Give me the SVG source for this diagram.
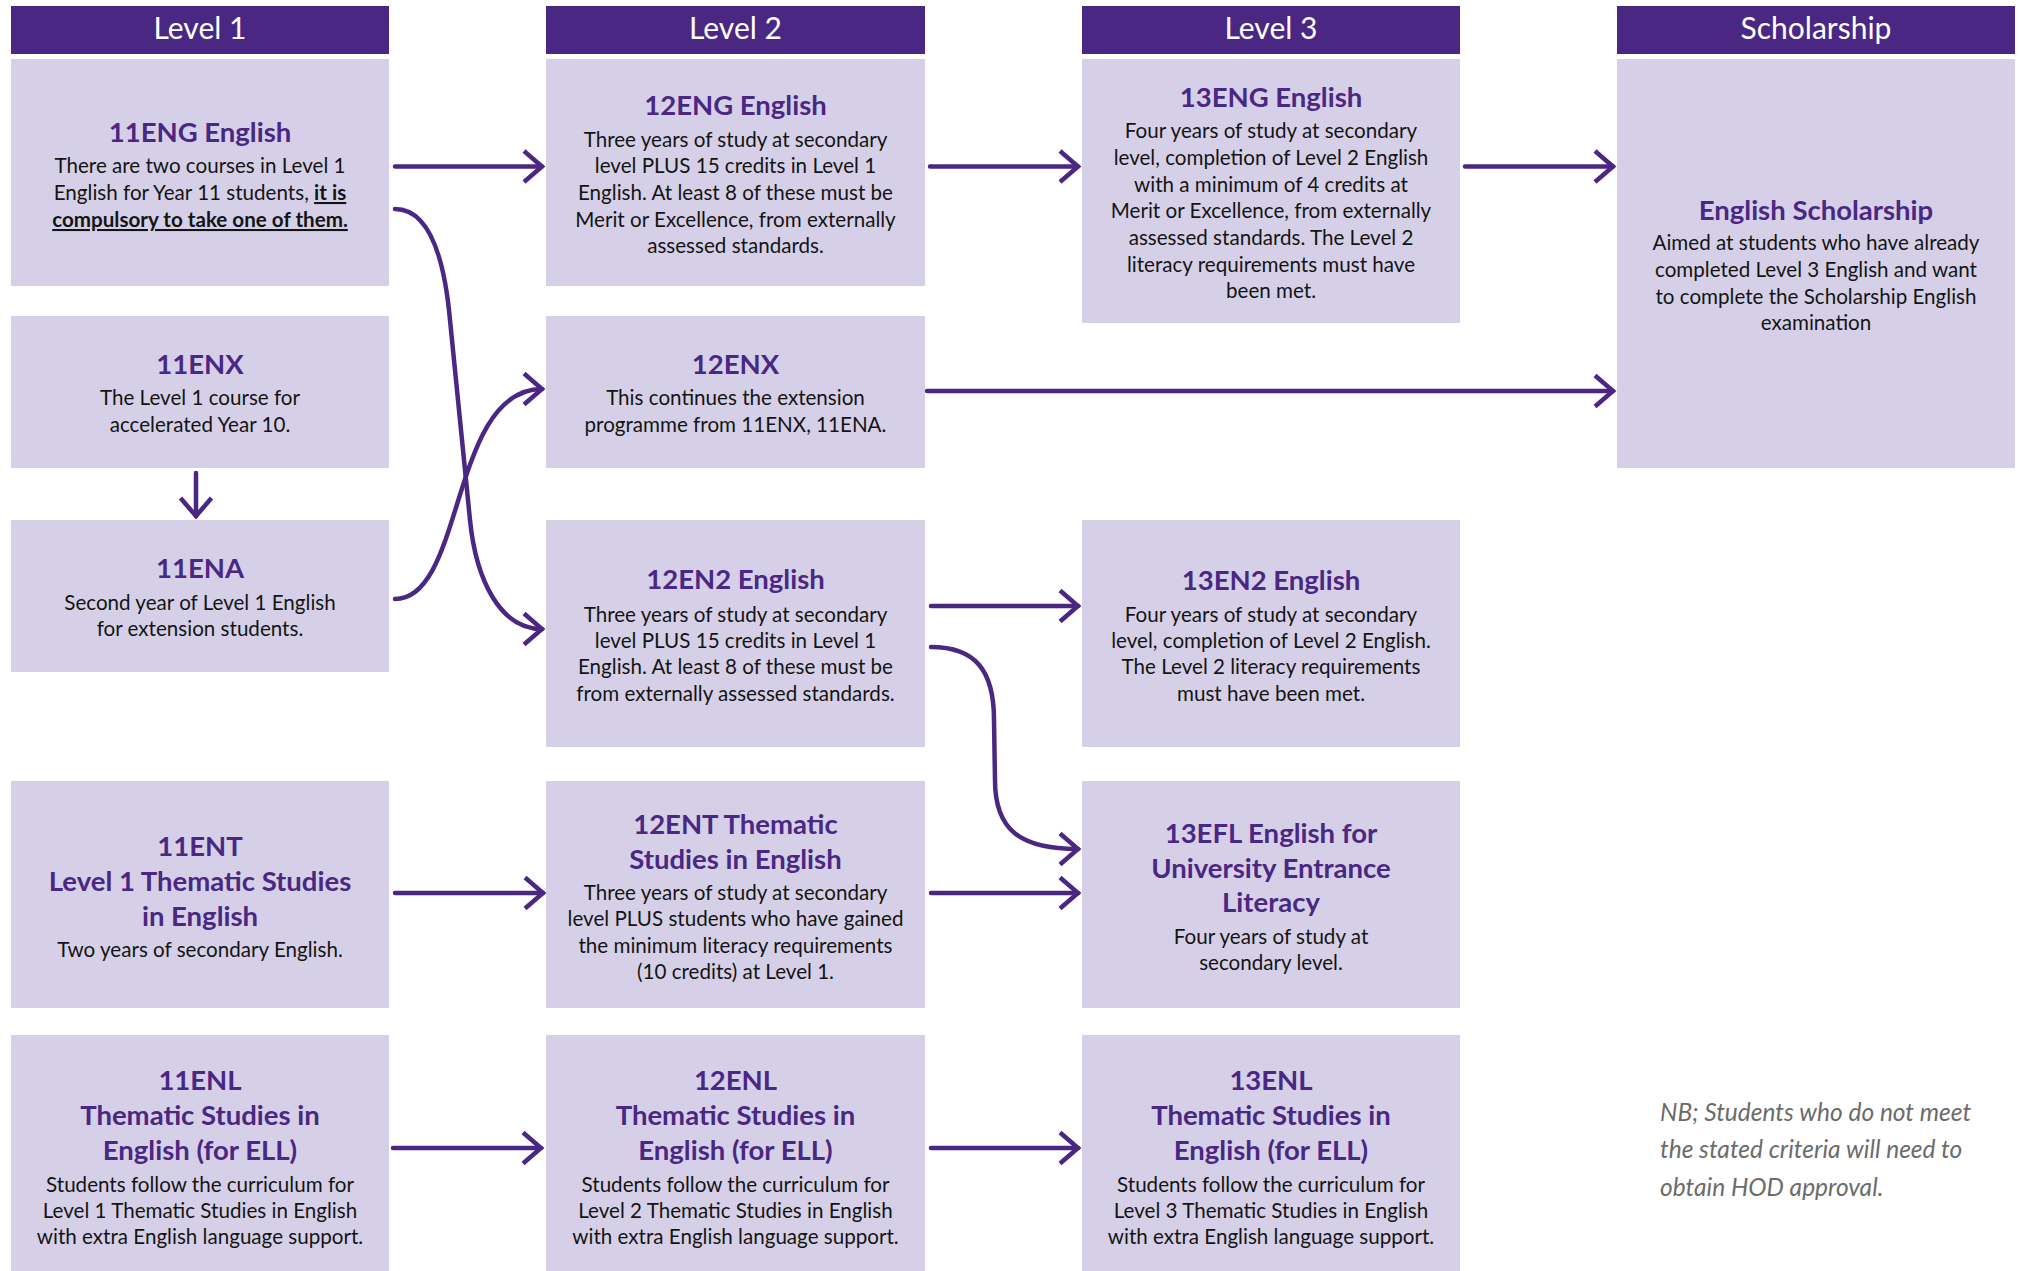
<svg xmlns="http://www.w3.org/2000/svg" width="2020" height="1271" viewBox="0 0 2020 1271">
<defs>
<style>
.hdr{fill:#4a2783}
.hdrt{font-family:Lato,"Open Sans",sans-serif;font-size:30px;fill:#ffffff;text-anchor:middle}
.box{fill:#d5d0e7}
.ttl{font-family:Lato,"Open Sans",sans-serif;font-weight:700;font-size:27.5px;fill:#4a2783;text-anchor:middle}
.bd{font-family:Lato,"Open Sans",sans-serif;font-size:20.6px;fill:#141414;text-anchor:middle}
.em{font-weight:700;text-decoration:underline}
.nb{font-family:Lato,"Open Sans",sans-serif;font-style:italic;font-size:24.5px;fill:#6b6b6b}
.conn path{fill:none;stroke:#4a2783;stroke-width:4.5;stroke-linecap:round;marker-end:url(#ah)}
</style>
<marker id="ah" markerUnits="userSpaceOnUse" markerWidth="40" markerHeight="40" refX="20" refY="16" orient="auto" overflow="visible">
<path d="M2,0.5 L20,16 L2,31.5" fill="none" stroke="#4a2783" stroke-width="4.5" stroke-linejoin="miter"/>
</marker>
</defs>
<rect width="2020" height="1271" fill="#ffffff"/>

<g id="headers">
<rect class="hdr" x="11" y="6" width="378" height="48"/>
<text class="hdrt" x="200" y="39">Level 1</text>
<rect class="hdr" x="546" y="6" width="379" height="48"/>
<text class="hdrt" x="735.5" y="39">Level 2</text>
<rect class="hdr" x="1082" y="6" width="378" height="48"/>
<text class="hdrt" x="1271" y="39">Level 3</text>
<rect class="hdr" x="1617" y="6" width="398" height="48"/>
<text class="hdrt" x="1816" y="39">Scholarship</text>
</g>

<g id="n11ENG">
<rect class="box" x="11" y="59" width="378" height="227"/>
<text class="ttl" x="200" y="142">11ENG English</text>
<text class="bd" x="200" y="173">There are two courses in Level 1</text>
<text class="bd" x="200" y="200">English for Year 11 students, <tspan class="em">it is</tspan></text>
<text class="bd" x="200" y="227"><tspan class="em">compulsory to take one of them.</tspan></text>
</g>

<g id="n11ENX">
<rect class="box" x="11" y="316" width="378" height="152"/>
<text class="ttl" x="200" y="374">11ENX</text>
<text class="bd" x="200" y="405">The Level 1 course for</text>
<text class="bd" x="200" y="432">accelerated Year 10.</text>
</g>

<g id="n11ENA">
<rect class="box" x="11" y="520" width="378" height="152"/>
<text class="ttl" x="200" y="578">11ENA</text>
<text class="bd" x="200" y="610">Second year of Level 1 English</text>
<text class="bd" x="200" y="636">for extension students.</text>
</g>

<g id="n11ENT">
<rect class="box" x="11" y="781" width="378" height="227"/>
<text class="ttl" x="200" y="856">11ENT</text>
<text class="ttl" x="200" y="891">Level 1 Thematic Studies</text>
<text class="ttl" x="200" y="926">in English</text>
<text class="bd" x="200" y="957">Two years of secondary English.</text>
</g>

<g id="n11ENL">
<rect class="box" x="11" y="1035" width="378" height="236"/>
<text class="ttl" x="200" y="1090">11ENL</text>
<text class="ttl" x="200" y="1125">Thematic Studies in</text>
<text class="ttl" x="200" y="1160">English (for ELL)</text>
<text class="bd" x="200" y="1192">Students follow the curriculum for</text>
<text class="bd" x="200" y="1218">Level 1 Thematic Studies in English</text>
<text class="bd" x="200" y="1244">with extra English language support.</text>
</g>

<g id="n12ENG">
<rect class="box" x="546" y="59" width="379" height="227"/>
<text class="ttl" x="735.5" y="115">12ENG English</text>
<text class="bd" x="735.5" y="147">Three years of study at secondary</text>
<text class="bd" x="735.5" y="173">level PLUS 15 credits in Level 1</text>
<text class="bd" x="735.5" y="200">English. At least 8 of these must be</text>
<text class="bd" x="735.5" y="227">Merit or Excellence, from externally</text>
<text class="bd" x="735.5" y="253">assessed standards.</text>
</g>

<g id="n12ENX">
<rect class="box" x="546" y="316" width="379" height="152"/>
<text class="ttl" x="735.5" y="374">12ENX</text>
<text class="bd" x="735.5" y="405">This continues the extension</text>
<text class="bd" x="735.5" y="432">programme from 11ENX, 11ENA.</text>
</g>

<g id="n12EN2">
<rect class="box" x="546" y="520" width="379" height="227"/>
<text class="ttl" x="735.5" y="589">12EN2 English</text>
<text class="bd" x="735.5" y="622">Three years of study at secondary</text>
<text class="bd" x="735.5" y="648">level PLUS 15 credits in Level 1</text>
<text class="bd" x="735.5" y="674">English. At least 8 of these must be</text>
<text class="bd" x="735.5" y="701">from externally assessed standards.</text>
</g>

<g id="n12ENT">
<rect class="box" x="546" y="781" width="379" height="227"/>
<text class="ttl" x="735.5" y="834">12ENT Thematic</text>
<text class="ttl" x="735.5" y="869">Studies in English</text>
<text class="bd" x="735.5" y="900">Three years of study at secondary</text>
<text class="bd" x="735.5" y="926">level PLUS students who have gained</text>
<text class="bd" x="735.5" y="953">the minimum literacy requirements</text>
<text class="bd" x="735.5" y="979">(10 credits) at Level 1.</text>
</g>

<g id="n12ENL">
<rect class="box" x="546" y="1035" width="379" height="236"/>
<text class="ttl" x="735.5" y="1090">12ENL</text>
<text class="ttl" x="735.5" y="1125">Thematic Studies in</text>
<text class="ttl" x="735.5" y="1160">English (for ELL)</text>
<text class="bd" x="735.5" y="1192">Students follow the curriculum for</text>
<text class="bd" x="735.5" y="1218">Level 2 Thematic Studies in English</text>
<text class="bd" x="735.5" y="1244">with extra English language support.</text>
</g>

<g id="n13ENG">
<rect class="box" x="1082" y="59" width="378" height="264"/>
<text class="ttl" x="1271" y="107">13ENG English</text>
<text class="bd" x="1271" y="138">Four years of study at secondary</text>
<text class="bd" x="1271" y="165">level, completion of Level 2 English</text>
<text class="bd" x="1271" y="192">with a minimum of 4 credits at</text>
<text class="bd" x="1271" y="218">Merit or Excellence, from externally</text>
<text class="bd" x="1271" y="245">assessed standards. The Level 2</text>
<text class="bd" x="1271" y="272">literacy requirements must have</text>
<text class="bd" x="1271" y="298">been met.</text>
</g>

<g id="n13EN2">
<rect class="box" x="1082" y="520" width="378" height="227"/>
<text class="ttl" x="1271" y="590">13EN2 English</text>
<text class="bd" x="1271" y="622">Four years of study at secondary</text>
<text class="bd" x="1271" y="648">level, completion of Level 2 English.</text>
<text class="bd" x="1271" y="674">The Level 2 literacy requirements</text>
<text class="bd" x="1271" y="701">must have been met.</text>
</g>

<g id="n13EFL">
<rect class="box" x="1082" y="781" width="378" height="227"/>
<text class="ttl" x="1271" y="843">13EFL English for</text>
<text class="ttl" x="1271" y="878">University Entrance</text>
<text class="ttl" x="1271" y="912">Literacy</text>
<text class="bd" x="1271" y="944">Four years of study at</text>
<text class="bd" x="1271" y="970">secondary level.</text>
</g>

<g id="n13ENL">
<rect class="box" x="1082" y="1035" width="378" height="236"/>
<text class="ttl" x="1271" y="1090">13ENL</text>
<text class="ttl" x="1271" y="1125">Thematic Studies in</text>
<text class="ttl" x="1271" y="1160">English (for ELL)</text>
<text class="bd" x="1271" y="1192">Students follow the curriculum for</text>
<text class="bd" x="1271" y="1218">Level 3 Thematic Studies in English</text>
<text class="bd" x="1271" y="1244">with extra English language support.</text>
</g>

<g id="nScholarship">
<rect class="box" x="1617" y="59" width="398" height="409"/>
<text class="ttl" x="1816" y="220">English Scholarship</text>
<text class="bd" x="1816" y="250">Aimed at students who have already</text>
<text class="bd" x="1816" y="277">completed Level 3 English and want</text>
<text class="bd" x="1816" y="304">to complete the Scholarship English</text>
<text class="bd" x="1816" y="330">examination</text>
</g>

<g id="note">
<text class="nb" x="1660" y="1121">NB; Students who do not meet</text>
<text class="nb" x="1660" y="1158">the stated criteria will need to</text>
<text class="nb" x="1660" y="1196">obtain HOD approval.</text>
</g>

<g id="connectors" class="conn">
<path d="M395,166.5 H542"/>
<path d="M930,166.5 H1078"/>
<path d="M1465,166.5 H1613"/>
<path d="M927,391 H1613"/>
<path d="M395,599 C465,599 450,389 542,389"/>
<path d="M395,209 C432,209 445,265 450,320 C455,370 464,460 470,520 C476,580 500,629 542,629"/>
<path d="M196,473 V516"/>
<path d="M931,606 H1078"/>
<path d="M931,647 C975,647 994,670 994,720 L995,780 C995,830 1020,849 1078,849"/>
<path d="M395,893 H543"/>
<path d="M931,893 H1078"/>
<path d="M393,1148 H541"/>
<path d="M931,1148 H1078"/>
</g>
</svg>
